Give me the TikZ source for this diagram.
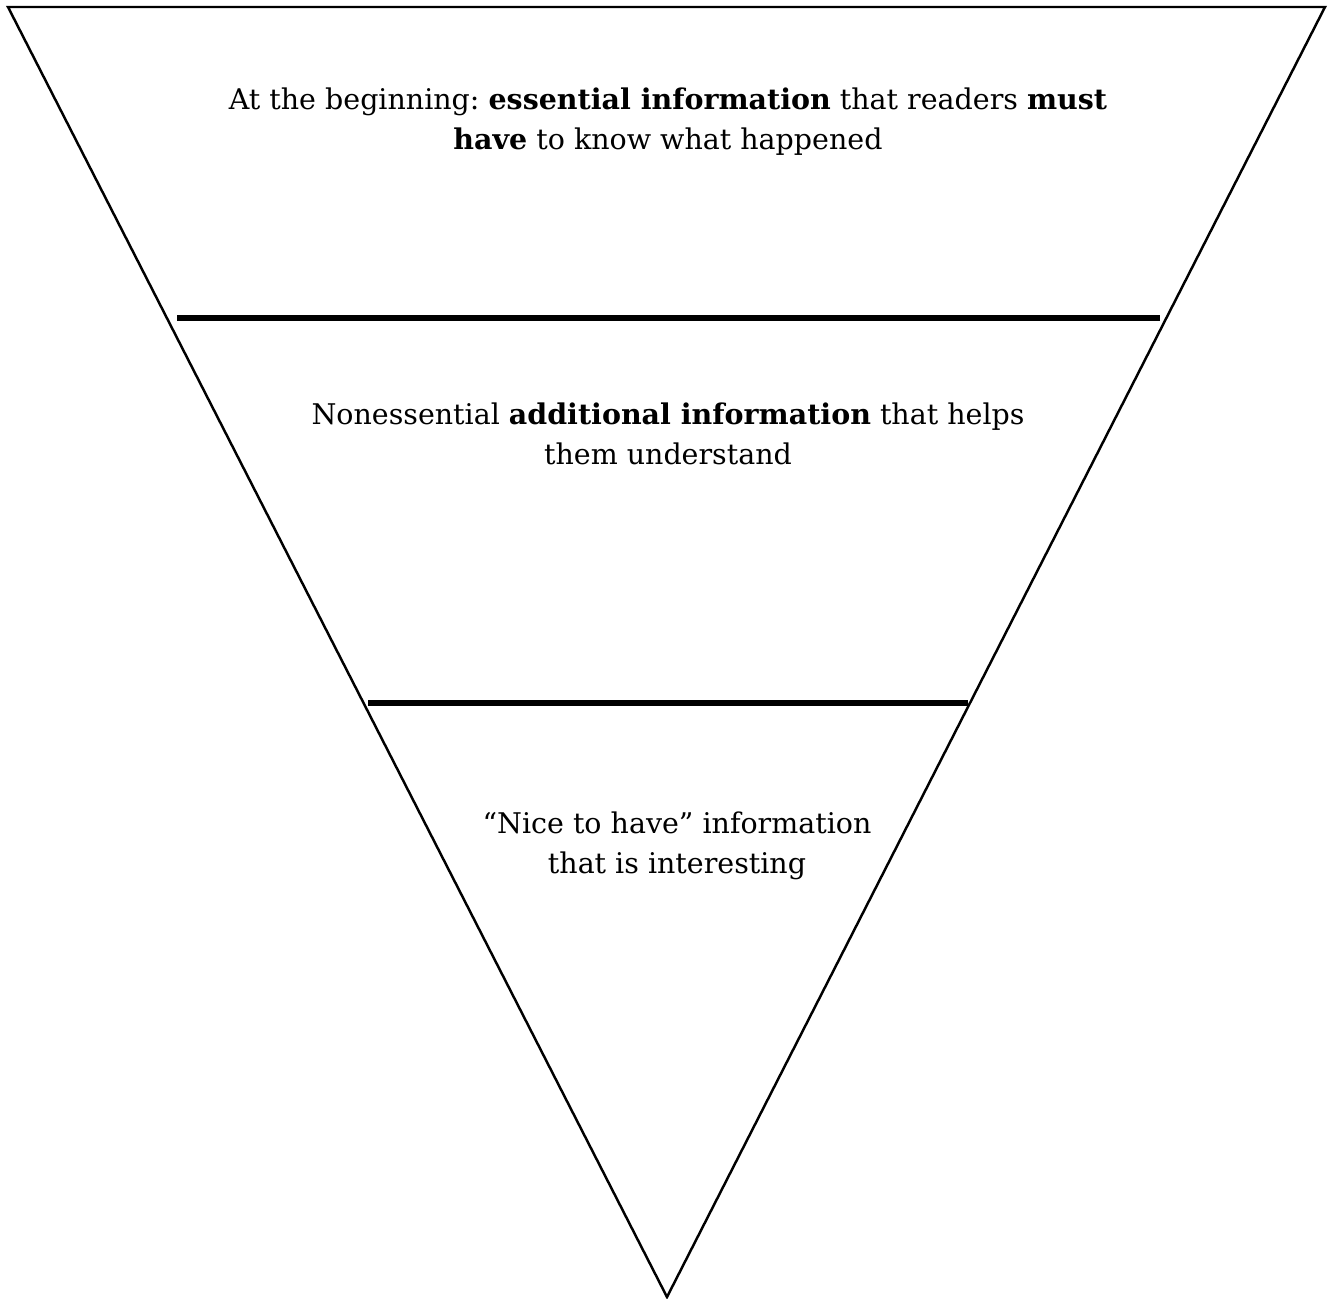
\documentclass[tikz,border=0pt]{standalone}
\usepackage{fontspec}
\setmainfont{DejaVu Serif}
\usepackage{tikz}
\usetikzlibrary{positioning,calc}
\frenchspacing

\begin{document}
\begin{tikzpicture}[x=0.01cm,y=-0.01cm]
        % Inverted pyramid diagram
        \useasboundingbox (0,0) rectangle (1329,1299);
        \coordinate (tl) at (8,7);
        \coordinate (tr) at (1325,7);
        \coordinate (apex) at (667,1297);
        \draw[line width=0.7pt, line join=miter] (tl) -- (tr) -- (apex) -- cycle;

        \coordinate (sepAl) at (177,318);
        \coordinate (sepAr) at (1160,318);
        \coordinate (sepBl) at (368,703);
        \coordinate (sepBr) at (968,703);
        \draw[line width=1.5pt] (sepAl) -- (sepAr);
        \draw[line width=1.5pt] (sepBl) -- (sepBr);

        \node[align=center, font=\fontsize{8.1}{11.4}\selectfont] (essential) at (668,122) {At the beginning: \textbf{essential information} that readers \textbf{must}\\\textbf{have} to know what happened};
        \node[align=center, font=\fontsize{8.1}{11.4}\selectfont] (additional) at (668,434) {Nonessential \textbf{additional information} that helps\\them understand};
        \node[align=center, font=\fontsize{8.1}{11.4}\selectfont] (nice) at (677,846) {``Nice to have'' information\\that is interesting};
    \end{tikzpicture}
\end{document}
